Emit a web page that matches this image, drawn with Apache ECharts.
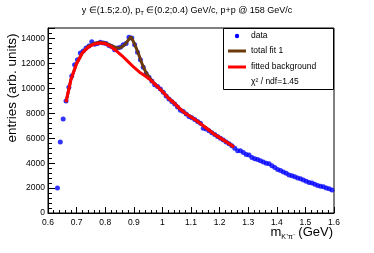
<!DOCTYPE html>
<html><head><meta charset="utf-8">
<script src="https://cdn.jsdelivr.net/npm/echarts@6/dist/echarts.min.js"></script>
<style>html,body{margin:0;padding:0;background:#fff}#c{width:374px;height:253px}</style>
</head><body><div id="c"></div>
<script>
// bin centres (GeV)
const mass = [0.633,0.643,0.653,0.663,0.673,0.683,0.693,0.703,0.713,0.723,0.733,0.743,0.753,0.763,0.773,0.783,0.793,0.803,0.813,0.823,
0.833,0.843,0.853,0.863,0.873,0.883,0.893,0.903,0.913,0.923,0.933,0.943,0.953,0.963,0.973,0.983,0.993,1.003,1.013,1.023,
1.033,1.043,1.053,1.063,1.073,1.083,1.093,1.103,1.113,1.123,1.133,1.143,1.153,1.163,1.173,1.183,1.193,1.203,1.213,1.223,
1.233,1.243,1.253,1.263,1.273,1.283,1.293,1.303,1.313,1.323,1.333,1.343,1.353,1.363,1.373,1.383,1.393,1.403,1.413,1.423,
1.433,1.443,1.453,1.463,1.473,1.483,1.493,1.503,1.513,1.523,1.533,1.543,1.553,1.563,1.573,1.583,1.593];
const entries = [2000,5700,7550,9000,10100,11000,11900,12300,12850,13000,13250,13400,13750,13550,13600,13700,13650,13600,13450,13350,
13100,13250,13300,13500,13600,14100,14050,13500,12900,12300,11700,11200,10900,10600,10300,10150,9950,9700,9400,9150,
8950,8750,8500,8250,8150,7950,7750,7650,7500,7350,7200,6800,6750,6600,6450,6300,6150,6000,5850,5700,
5550,5400,5200,5000,5000,4850,4700,4650,4450,4350,4300,4200,4100,4000,3950,3800,3650,3500,3420,3300,
3200,3050,3000,2900,2800,2750,2650,2550,2450,2400,2300,2200,2150,2100,2000,1950,1850];
// fitted background curve
const bgMass = [0.663,0.68,0.70,0.72,0.74,0.76,0.78,0.80,0.82,0.84,0.86,0.88,0.90,0.92,0.94,0.96,0.98,1.00,1.02,1.04,1.06,1.08,1.10,1.12,1.14,1.16,1.18,1.20,1.22,1.24,1.25];
const bgVal  = [8900,10700,12000,12850,13300,13550,13650,13600,13350,13000,12600,12150,11700,11300,11000,10650,10200,9750,9250,8850,8400,8000,7700,7400,7050,6700,6350,6050,5750,5450,5300];
// total fit 1
const fitMass = [0.663,0.68,0.70,0.72,0.74,0.76,0.78,0.80,0.82,0.84,0.85,0.86,0.87,0.88,0.89,0.90,0.91,0.92,0.93,0.94,0.95,0.96,0.98,1.00,1.02,1.04,1.06,1.08,1.10,1.12,1.14,1.16,1.18,1.20,1.22,1.24,1.25];
const fitVal  = [8900,10700,12000,12850,13350,13600,13700,13650,13450,13250,13250,13350,13550,13850,14150,13700,13150,12550,11900,11400,11000,10700,10200,9750,9250,8850,8400,8000,7700,7400,7050,6700,6350,6050,5750,5450,5300];
const xTicks = {min:0.6, max:1.6, step:0.1};
const yTicks = {min:0, max:14850, step:2000};

const chart = echarts.init(document.getElementById('c'), null, {renderer:'canvas'});
const F = 'Liberation Sans, Arial, sans-serif';
const zip = (a,b)=>a.map((v,i)=>[v,b[i]]);
chart.setOption({
  animation:false,
  grid:{left:48,right:40,top:28,bottom:40,show:true,borderColor:'#000',borderWidth:1,backgroundColor:'transparent'},
  xAxis:{type:'value',min:xTicks.min,max:xTicks.max,interval:xTicks.step,
    axisLine:{show:true,onZero:false,lineStyle:{color:'#000',width:1}},
    axisTick:{show:true,inside:true,length:6,lineStyle:{color:'#000'}},
    minorTick:{show:true,splitNumber:5,length:3,lineStyle:{color:'#000'}},
    splitLine:{show:false},
    axisLabel:{color:'#000',fontFamily:F,fontSize:8.5,margin:5,formatter:v=>String(+(+v).toFixed(1))}},
  yAxis:{type:'value',min:yTicks.min,max:yTicks.max,interval:yTicks.step,
    axisLine:{show:true,lineStyle:{color:'#000',width:1}},
    axisTick:{show:true,inside:true,length:7,lineStyle:{color:'#000'}},
    minorTick:{show:true,splitNumber:5,length:4,lineStyle:{color:'#000'}},
    splitLine:{show:false},
    axisLabel:{color:'#000',fontFamily:F,fontSize:8.5,margin:3,formatter:v=>(v%2000===0?String(v):'')}},
  series:[
    {type:'scatter',data:zip(mass,entries),symbol:'circle',symbolSize:5,itemStyle:{color:'#0000ff'},z:2},
    {type:'line',data:zip(fitMass,fitVal),showSymbol:false,symbol:'none',lineStyle:{color:'#6b3a0a',width:3},z:3},
    {type:'line',data:zip(bgMass,bgVal),showSymbol:false,symbol:'none',lineStyle:{color:'#ff0000',width:3},z:4}
  ],
  graphic:[
    {type:'text',left:'center',top:6,style:{text:'{a|y ∈(1.5;2.0), p}{s|T}{a| ∈(0.2;0.4) GeV/c, p+p @ 158 GeV/c}',
      rich:{a:{fontFamily:F,fontSize:9,fill:'#000'},s:{fontFamily:F,fontSize:6,fill:'#000',padding:[6,0,0,0]}}}},
    {type:'text',x:12,y:88,rotation:Math.PI/2,style:{text:'entries (arb. units)',fontFamily:F,fontSize:13.5,fill:'#000',align:'center',verticalAlign:'middle'},z:10},
    {type:'text',right:41,top:226,style:{text:'{a|m}{s|K⁺π⁻}{a| (GeV)}',
      rich:{a:{fontFamily:F,fontSize:13,fill:'#000'},s:{fontFamily:F,fontSize:7,fill:'#000',padding:[9,0,0,0]}}}},
    {type:'rect',shape:{x:223.5,y:28.5,width:110,height:61},style:{fill:'#fff',stroke:'#000',lineWidth:1},z:20},
    {type:'circle',shape:{cx:237,cy:36,r:2.2},style:{fill:'#0000ff'},z:21},
    {type:'line',shape:{x1:228,y1:51,x2:246,y2:51},style:{stroke:'#6b3a0a',lineWidth:3},z:21},
    {type:'line',shape:{x1:228,y1:67,x2:246,y2:67},style:{stroke:'#ff0000',lineWidth:3},z:21},
    {type:'text',x:251,y:36,style:{text:'data',fontFamily:F,fontSize:8.5,fill:'#000',verticalAlign:'middle'},z:21},
    {type:'text',x:251,y:51,style:{text:'total fit 1',fontFamily:F,fontSize:8.5,fill:'#000',verticalAlign:'middle'},z:21},
    {type:'text',x:251,y:67,style:{text:'fitted background',fontFamily:F,fontSize:8.5,fill:'#000',verticalAlign:'middle'},z:21},
    {type:'text',x:251,y:82,style:{text:'χ² / ndf=1.45',fontFamily:F,fontSize:8.5,fill:'#000',verticalAlign:'middle'},z:21}
  ]
});
</script></body></html>
